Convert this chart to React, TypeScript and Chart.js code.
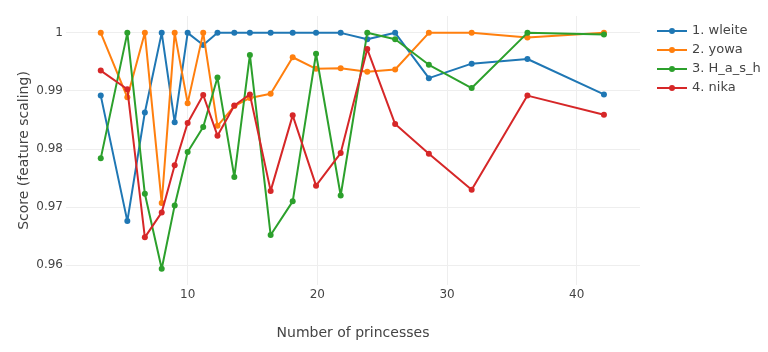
import React, { useEffect, useRef } from "react";
import { Chart, registerables } from "chart.js";

Chart.register(...registerables);

const princesses = [3.3, 5.35, 6.7, 8.0, 9.0, 10.0, 11.2, 12.3, 13.6, 14.8, 16.4, 18.1, 19.9, 21.8, 23.85, 26.0, 28.6, 31.9, 36.2, 42.1];

const wleite = [0.9892, 0.9676, 0.9863, 1.0, 0.9846, 1.0, 0.9979, 1.0, 1.0, 1.0, 1.0, 1.0, 1.0, 1.0, 0.9989, 1.0, 0.9922, 0.9947, 0.9955, 0.9894];
const yowa = [1.0, 0.9889, 1.0, 0.9707, 1.0, 0.9879, 1.0, 0.984, 0.9874, 0.9888, 0.9895, 0.9958, 0.9938, 0.9939, 0.9933, 0.9937, 1.0, 1.0, 0.9992, 1.0];
const hash = [0.9784, 1.0, 0.9723, 0.9594, 0.9703, 0.9795, 0.9838, 0.9923, 0.9752, 0.9962, 0.9652, 0.971, 0.9964, 0.972, 1.0, 0.9989, 0.9945, 0.9905, 1.0, 0.9997];
const nika = [0.9935, 0.9903, 0.9648, 0.9691, 0.9772, 0.9845, 0.9893, 0.9823, 0.9875, 0.9894, 0.9728, 0.9858, 0.9737, 0.9793, 0.9972, 0.9843, 0.9792, 0.973, 0.9892, 0.9859];

const seriesNames = ["1. wleite", "2. yowa", "3. H_a_s_h", "4. nika"];
const seriesColors = ["#1f77b4", "#ff7f0e", "#2ca02c", "#d62728"];
const seriesValues = [wleite, yowa, hash, nika];

const xTicks = [10, 20, 30, 40];
const yTicks = [0.96, 0.97, 0.98, 0.99, 1.0];

const FONT = "'DejaVu Sans', Verdana, sans-serif";
const TEXT = "#444444";

const legendPlugin = {
  id: "sideLegend",
  afterDraw(chart: any) {
    const ctx = chart.ctx;
    ctx.save();
    ctx.font = `13px ${FONT}`;
    ctx.textBaseline = "middle";
    ctx.textAlign = "left";
    seriesNames.forEach((name, i) => {
      const y = 31 + i * 19;
      const color = seriesColors[i];
      ctx.strokeStyle = color;
      ctx.lineWidth = 2;
      ctx.beginPath();
      ctx.moveTo(657, y);
      ctx.lineTo(687, y);
      ctx.stroke();
      ctx.fillStyle = color;
      ctx.beginPath();
      ctx.arc(672, y, 3, 0, Math.PI * 2);
      ctx.fill();
      ctx.fillStyle = TEXT;
      ctx.fillText(name, 692, y);
    });
    ctx.restore();
  },
};

export default function App() {
  const ref = useRef<HTMLCanvasElement | null>(null);

  useEffect(() => {
    if (!ref.current) return;
    const chart = new Chart(ref.current, {
      type: "line",
      data: {
        datasets: seriesValues.map((vals, i) => ({
          label: seriesNames[i],
          data: vals.map((v, j) => ({ x: princesses[j], y: v })),
          borderColor: seriesColors[i],
          backgroundColor: seriesColors[i],
          pointBackgroundColor: seriesColors[i],
          pointBorderColor: seriesColors[i],
          borderWidth: 2,
          borderJoinStyle: "round" as const,
          borderCapStyle: "round" as const,
          pointRadius: 3,
          pointBorderWidth: 0,
          tension: 0,
          fill: false,
          order: seriesNames.length - 1 - i,
        })),
      },
      options: {
        responsive: false,
        animation: false,
        layout: { padding: { left: 0, right: 128, top: 16, bottom: 0 } },
        plugins: {
          legend: { display: false },
          tooltip: { enabled: false },
        },
        scales: {
          x: {
            type: "linear",
            min: 0.62,
            max: 44.88,
            afterBuildTicks: (scale: any) => {
              scale.ticks = xTicks.map((v) => ({ value: v }));
            },
            afterFit: (scale: any) => {
              scale.height = 67;
            },
            grid: { color: "#eeeeee", drawTicks: false, lineWidth: 1 },
            border: { display: false },
            ticks: {
              color: TEXT,
              font: { family: FONT, size: 12 },
              padding: 3,
              maxRotation: 0,
              callback: (v: any) => String(v),
            },
            title: {
              display: true,
              text: "Number of princesses",
              color: TEXT,
              font: { family: FONT, size: 14 },
              padding: { top: 0, bottom: 10 },
            },
          },
          y: {
            type: "linear",
            min: 0.9566,
            max: 1.0029,
            afterBuildTicks: (scale: any) => {
              scale.ticks = yTicks.map((v) => ({ value: v }));
            },
            afterFit: (scale: any) => {
              scale.width = 66;
            },
            grid: { color: "#eeeeee", drawTicks: false, lineWidth: 1 },
            border: { display: false },
            ticks: {
              color: TEXT,
              font: { family: FONT, size: 12 },
              padding: 3,
              callback: (v: any) => String(Number(Number(v).toFixed(2))),
            },
            title: {
              display: true,
              text: "Score (feature scaling)",
              color: TEXT,
              font: { family: FONT, size: 14 },
              padding: { top: 16, bottom: 0 },
            },
          },
        },
      },
      plugins: [legendPlugin],
    });
    return () => chart.destroy();
  }, []);

  return (
    <div style={{ position: "absolute", left: 0, top: 0, width: 768, height: 352, background: "#fff" }}>
      <canvas ref={ref} width={768} height={352} style={{ display: "block", width: 768, height: 352 }} />
    </div>
  );
}
